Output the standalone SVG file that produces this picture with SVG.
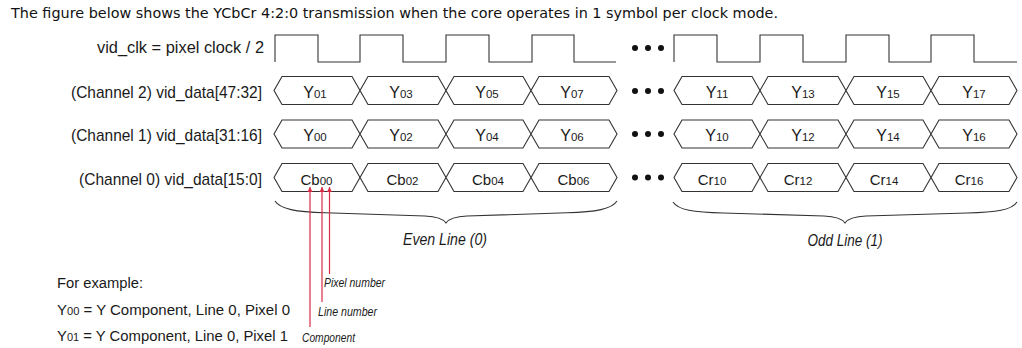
<svg xmlns="http://www.w3.org/2000/svg" width="1022" height="348" viewBox="0 0 1022 348">
<defs>
<style>
.title{font-family:"DejaVu Sans","Verdana",sans-serif;font-size:13.5px;fill:#111}
.lbl{font-family:"Liberation Sans Narrow","Liberation Sans",Arial,sans-serif;font-size:17px;fill:#1a1a1a}
.leg{font-family:"Liberation Sans Narrow","Liberation Sans",Arial,sans-serif;font-size:15.5px;fill:#1a1a1a}
.bl{font-family:"Liberation Sans Narrow","Liberation Sans",Arial,sans-serif;font-size:16px;fill:#1a1a1a;text-anchor:middle}
.cb{font-family:"Liberation Sans Narrow","Liberation Sans",Arial,sans-serif;font-size:15px;fill:#1a1a1a;text-anchor:middle}
.sub{font-size:11.5px}
.it{font-family:"Liberation Sans Narrow","Liberation Sans",Arial,sans-serif;font-style:italic;fill:#1a1a1a}
.wave{fill:none;stroke:#333;stroke-width:1.1}
.bus{fill:#fff;stroke:#333;stroke-width:1.1;stroke-linejoin:miter}
.dot{fill:#111}
.brace{fill:none;stroke:#333;stroke-width:1.1}
.red{stroke:#d92b45;stroke-width:1.2;fill:none}
</style>
<marker id="ah" viewBox="0 0 10 10" refX="10" refY="5" markerWidth="5" markerHeight="6" orient="auto" markerUnits="userSpaceOnUse">
<path d="M0,0 L10,5 L0,10 Z" fill="#d92b45"/>
</marker>
</defs>
<rect width="1022" height="348" fill="#fff"/>
<g id="title">
<text class="title" x="11" y="18" textLength="767" lengthAdjust="spacingAndGlyphs">The figure below shows the YCbCr 4:2:0 transmission when the core operates in 1 symbol per clock mode.</text>
</g>
<g id="clock">
<text class="lbl" x="264" y="53" text-anchor="end" textLength="167" lengthAdjust="spacingAndGlyphs">vid_clk = pixel clock / 2</text>
<path class="wave" d="M275,62 V35 H318 V62 H360 V35 H403 V62 H446 V35 H489 V62 H532 V35 H574 V62 H616"/>
<path class="wave" d="M674,62 V35 H717 V62 H760 V35 H803 V62 H846 V35 H889 V62 H931 V35 H974 V62 H1017"/>
<circle class="dot" cx="635" cy="48" r="3"/><circle class="dot" cx="648" cy="48" r="3"/><circle class="dot" cx="661" cy="48" r="3"/>
</g>
<g id="ch2">
<text class="lbl" x="262" y="97.5" text-anchor="end" textLength="191" lengthAdjust="spacingAndGlyphs">(Channel 2) vid_data[47:32]</text>
<polygon class="bus" points="274,90.5 282,76.5 352,76.5 360,90.5 352,104.5 282,104.5"/>
<polygon class="bus" points="360,90.5 368,76.5 438,76.5 446,90.5 438,104.5 368,104.5"/>
<polygon class="bus" points="446,90.5 454,76.5 523,76.5 531,90.5 523,104.5 454,104.5"/>
<polygon class="bus" points="531,90.5 539,76.5 609,76.5 617,90.5 609,104.5 539,104.5"/>
<polygon class="bus" points="674,90.5 682,76.5 752,76.5 760,90.5 752,104.5 682,104.5"/>
<polygon class="bus" points="760,90.5 768,76.5 838,76.5 846,90.5 838,104.5 768,104.5"/>
<polygon class="bus" points="846,90.5 854,76.5 923,76.5 931,90.5 923,104.5 854,104.5"/>
<polygon class="bus" points="931,90.5 939,76.5 1009,76.5 1017,90.5 1009,104.5 939,104.5"/>
<text class="bl" x="315" y="97.5">Y<tspan class="sub">01</tspan></text>
<text class="bl" x="401" y="97.5">Y<tspan class="sub">03</tspan></text>
<text class="bl" x="487" y="97.5">Y<tspan class="sub">05</tspan></text>
<text class="bl" x="572" y="97.5">Y<tspan class="sub">07</tspan></text>
<text class="bl" x="717" y="97.5">Y<tspan class="sub">11</tspan></text>
<text class="bl" x="803" y="97.5">Y<tspan class="sub">13</tspan></text>
<text class="bl" x="888" y="97.5">Y<tspan class="sub">15</tspan></text>
<text class="bl" x="974" y="97.5">Y<tspan class="sub">17</tspan></text>
<circle class="dot" cx="635" cy="91" r="3"/><circle class="dot" cx="648" cy="91" r="3"/><circle class="dot" cx="661" cy="91" r="3"/>
</g>
<g id="ch1">
<text class="lbl" x="262" y="141" text-anchor="end" textLength="191" lengthAdjust="spacingAndGlyphs">(Channel 1) vid_data[31:16]</text>
<polygon class="bus" points="274,134 282,120 352,120 360,134 352,148 282,148"/>
<polygon class="bus" points="360,134 368,120 438,120 446,134 438,148 368,148"/>
<polygon class="bus" points="446,134 454,120 523,120 531,134 523,148 454,148"/>
<polygon class="bus" points="531,134 539,120 609,120 617,134 609,148 539,148"/>
<polygon class="bus" points="674,134 682,120 752,120 760,134 752,148 682,148"/>
<polygon class="bus" points="760,134 768,120 838,120 846,134 838,148 768,148"/>
<polygon class="bus" points="846,134 854,120 923,120 931,134 923,148 854,148"/>
<polygon class="bus" points="931,134 939,120 1009,120 1017,134 1009,148 939,148"/>
<text class="bl" x="315" y="141">Y<tspan class="sub">00</tspan></text>
<text class="bl" x="401" y="141">Y<tspan class="sub">02</tspan></text>
<text class="bl" x="487" y="141">Y<tspan class="sub">04</tspan></text>
<text class="bl" x="572" y="141">Y<tspan class="sub">06</tspan></text>
<text class="bl" x="717" y="141">Y<tspan class="sub">10</tspan></text>
<text class="bl" x="803" y="141">Y<tspan class="sub">12</tspan></text>
<text class="bl" x="888" y="141">Y<tspan class="sub">14</tspan></text>
<text class="bl" x="974" y="141">Y<tspan class="sub">16</tspan></text>
<circle class="dot" cx="635" cy="134" r="3"/><circle class="dot" cx="648" cy="134" r="3"/><circle class="dot" cx="661" cy="134" r="3"/>
</g>
<g id="ch0">
<text class="lbl" x="262" y="184.5" text-anchor="end" textLength="183" lengthAdjust="spacingAndGlyphs">(Channel 0) vid_data[15:0]</text>
<polygon class="bus" points="274,177.5 282,163.5 352,163.5 360,177.5 352,191.5 282,191.5"/>
<polygon class="bus" points="360,177.5 368,163.5 438,163.5 446,177.5 438,191.5 368,191.5"/>
<polygon class="bus" points="446,177.5 454,163.5 523,163.5 531,177.5 523,191.5 454,191.5"/>
<polygon class="bus" points="531,177.5 539,163.5 609,163.5 617,177.5 609,191.5 539,191.5"/>
<polygon class="bus" points="674,177.5 682,163.5 752,163.5 760,177.5 752,191.5 682,191.5"/>
<polygon class="bus" points="760,177.5 768,163.5 838,163.5 846,177.5 838,191.5 768,191.5"/>
<polygon class="bus" points="846,177.5 854,163.5 923,163.5 931,177.5 923,191.5 854,191.5"/>
<polygon class="bus" points="931,177.5 939,163.5 1009,163.5 1017,177.5 1009,191.5 939,191.5"/>
<text class="cb" x="316.5" y="184.5">Cb<tspan class="sub">00</tspan></text>
<text class="cb" x="402.5" y="184.5">Cb<tspan class="sub">02</tspan></text>
<text class="cb" x="488" y="184.5">Cb<tspan class="sub">04</tspan></text>
<text class="cb" x="573.5" y="184.5">Cb<tspan class="sub">06</tspan></text>
<text class="cb" x="712" y="184.5">Cr<tspan class="sub">10</tspan></text>
<text class="cb" x="798" y="184.5">Cr<tspan class="sub">12</tspan></text>
<text class="cb" x="884" y="184.5">Cr<tspan class="sub">14</tspan></text>
<text class="cb" x="969" y="184.5">Cr<tspan class="sub">16</tspan></text>
<circle class="dot" cx="635" cy="177.5" r="3"/><circle class="dot" cx="648" cy="177.5" r="3"/><circle class="dot" cx="661" cy="177.5" r="3"/>
</g>
<g id="even-line">
<path class="brace" d="M275,201 C280,209 296,212 325,212.8 L425,216 C437,216.5 443,218.5 446,223 C449,218.5 455,216.5 467,216 L567,212.8 C596,212 612,209 617,201"/>
<text class="it" x="445" y="245" font-size="16.5" text-anchor="middle" textLength="84" lengthAdjust="spacingAndGlyphs">Even Line (0)</text>
</g>
<g id="odd-line">
<path class="brace" d="M673,202 C678,210 694,212.5 723,213 L824,216 C836,216.5 842,218.5 845,223 C848,218.5 854,216.5 866,216 L967,213 C996,212.5 1012,210 1017,202"/>
<text class="it" x="845" y="246" font-size="16.5" text-anchor="middle" textLength="75" lengthAdjust="spacingAndGlyphs">Odd Line (1)</text>
</g>
<g id="legend">
<text class="leg" x="57" y="288" font-size="16" textLength="86" lengthAdjust="spacingAndGlyphs">For example:</text>
<text class="leg" x="57" y="315" textLength="233" lengthAdjust="spacingAndGlyphs">Y<tspan class="sub">00</tspan> = Y Component, Line 0, Pixel 0</text>
<text class="leg" x="57" y="341" textLength="231" lengthAdjust="spacingAndGlyphs">Y<tspan class="sub">01</tspan> = Y Component, Line 0, Pixel 1</text>
<text class="it" x="324" y="287" font-size="12.5" textLength="61" lengthAdjust="spacingAndGlyphs">Pixel number</text>
<text class="it" x="318" y="316" font-size="12.5" textLength="59" lengthAdjust="spacingAndGlyphs">Line number</text>
<text class="it" x="302" y="342" font-size="12.5" textLength="53" lengthAdjust="spacingAndGlyphs">Component</text>
</g>
<g id="connectors">
<line class="red" x1="310" y1="327" x2="310" y2="187" marker-end="url(#ah)"/>
<line class="red" x1="322" y1="302" x2="322" y2="187" marker-end="url(#ah)"/>
<line class="red" x1="329.5" y1="274" x2="329.5" y2="187" marker-end="url(#ah)"/>
</g>
</svg>
